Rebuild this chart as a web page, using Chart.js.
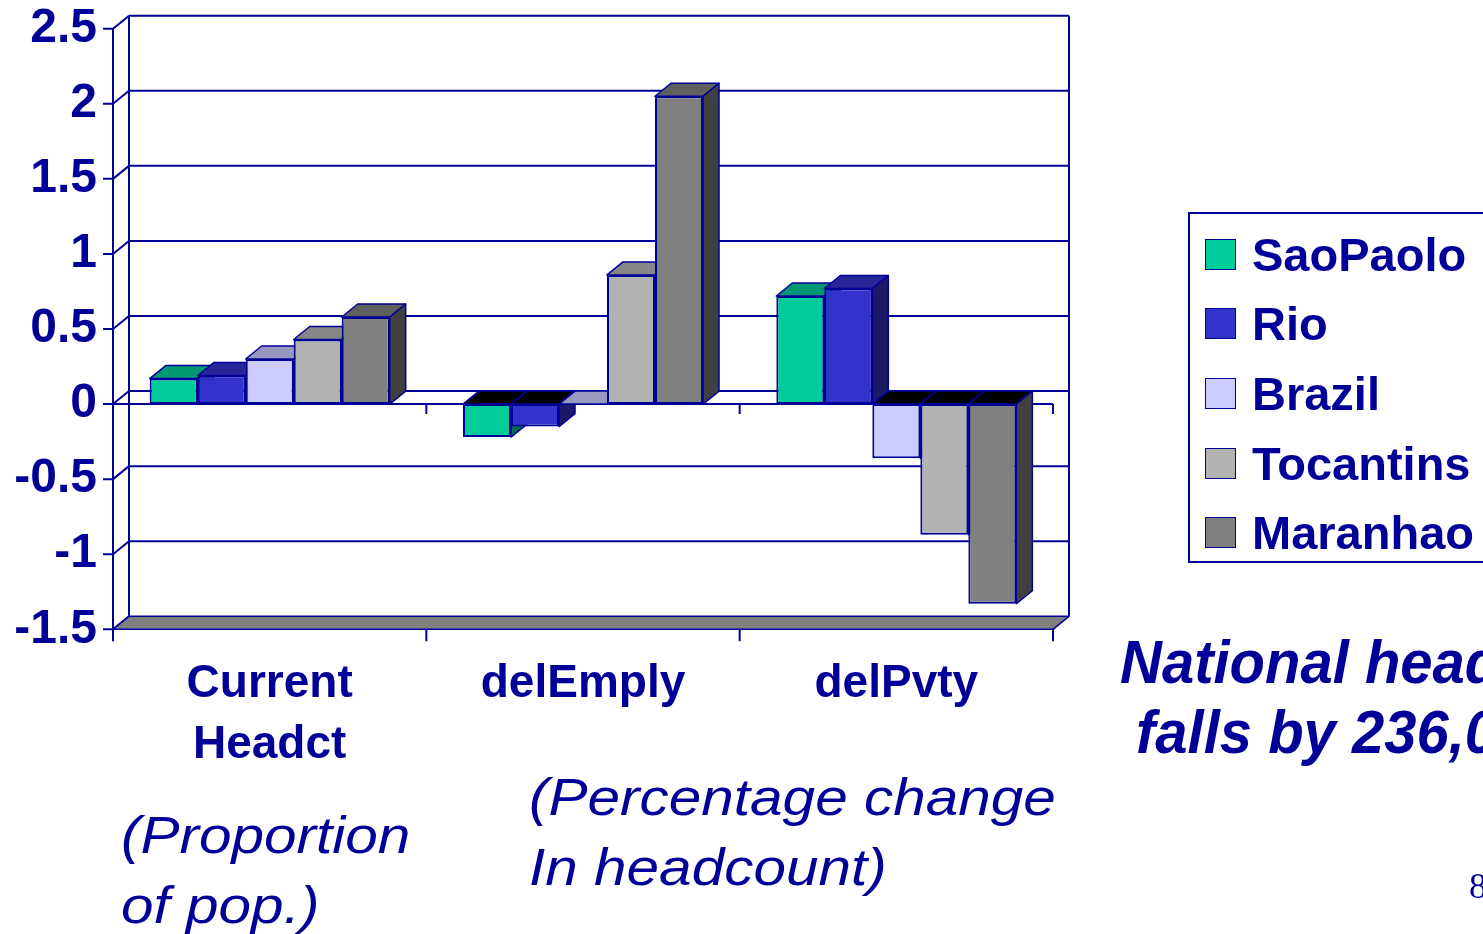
<!DOCTYPE html>
<html lang="en">
<head>
  <meta charset="UTF-8">
  <title>Headcount by region</title>
  <script src="https://cdn.jsdelivr.net/npm/chart.js"></script>
  <style>
    html, body {
      margin: 0;
      padding: 0;
      overflow: hidden;
      background: #fff;
    }
    #wrap {
      position: relative;
      width: 1483px;
      height: 934px;
    }
    .note {
      position: absolute;
      color: #000099;
      white-space: nowrap;
      font-family: "Liberation Sans", Arial, sans-serif;
      line-height: 1;
    }
    .sub {
      font-size: 52px;
      font-style: italic;
      transform: scaleX(1.125);
      transform-origin: left top;
    }
    .big {
      font-size: 58px;
      font-style: italic;
      font-weight: bold;
      transform: scaleY(1.05);
      transform-origin: left top;
    }
    #legend {
      position: absolute;
      left: 1188px;
      top: 212px;
      width: 340px;
      height: 351px;
      border: 2px solid #000099;
      box-sizing: border-box;
    }
    .item {
      position: absolute;
      left: 15px;
      height: 40px;
      display: flex;
      align-items: center;
      font-family: "Liberation Sans", Arial, sans-serif;
      font-weight: bold;
      font-size: 47px;
      color: #000099;
    }
    .item span.box {
      display: inline-block;
      width: 29px;
      height: 29px;
      border: 1px solid #000099;
      margin-right: 16px;
    }
  </style>
</head>
<body>
<div id="wrap">
  <canvas id="chart"></canvas>

  <div id="legend"></div>

  <div class="note sub" style="left:121px; top:809px;">(Proportion</div>
  <div class="note sub" style="left:121px; top:879px;">of pop.)</div>
  <div class="note sub" style="left:529px; top:771px;">(Percentage change</div>
  <div class="note sub" style="left:529px; top:841px;">In headcount)</div>

  <div class="note big" style="left:1120px; top:632px;">National headcount</div>
  <div class="note big" style="left:1136px; top:702px;">falls by 236,000</div>

  <div class="note" style="left:1469px; top:868px; font-family:'Liberation Serif', serif; font-size:36px;">8</div>
</div>

<script>
  const categories = [['Current', 'Headct'], 'delEmply', 'delPvty'];
  const seriesNames = ['SaoPaolo', 'Rio', 'Brazil', 'Tocantins', 'Maranhao'];

  const saoPaolo  = [0.17, -0.22, 0.72];
  const rio       = [0.19, -0.15, 0.77];
  const brazil    = [0.30,  0.00, -0.36];
  const tocantins = [0.43,  0.86, -0.87];
  const maranhao  = [0.58,  2.05, -1.33];

  const yMin = -1.5, yMax = 2.5, yStep = 0.5;

  // front / top / side shades of each series
  const frontColors = ['#00CC99', '#3333CC', '#CCCCFF', '#B2B2B2', '#808080'];
  const topColors   = ['#009973', '#262699', '#9999BF', '#868686', '#606060'];
  const sideColors  = ['#006B50', '#1A1A66', '#66667F', '#595959', '#404040'];

  const navy = '#000099';
  const DX = 16, DY = -13;   // depth offset of the 3d look

  const allValues = [saoPaolo, rio, brazil, tocantins, maranhao];

  // legend
  const legend = document.getElementById('legend');
  seriesNames.forEach((name, i) => {
    const d = document.createElement('div');
    d.className = 'item';
    d.style.top = (20 + i * 69.7) + 'px';
    d.innerHTML = '<span class="box" style="background:' + frontColors[i] + '"></span>' + name;
    legend.appendChild(d);
  });

  function poly(ctx, pts, fill) {
    ctx.beginPath();
    ctx.moveTo(pts[0][0], pts[0][1]);
    for (let k = 1; k < pts.length; k++) ctx.lineTo(pts[k][0], pts[k][1]);
    ctx.closePath();
    ctx.fillStyle = fill;
    ctx.fill();
    ctx.stroke();
  }

  const box3d = {
    id: 'box3d',
    beforeDatasetsDraw(chart) {
      const ctx = chart.ctx;
      const area = chart.chartArea;
      const y = chart.scales.y;
      const L = area.left, R = area.right;
      const bottom = y.getPixelForValue(yMin);
      const zero = y.getPixelForValue(0);
      const catW = (R - L) / categories.length;

      ctx.save();
      ctx.strokeStyle = navy;
      ctx.lineWidth = 2;
      ctx.lineJoin = 'round';

      // back wall gridlines + left wall diagonals + ticks
      for (let v = yMin; v <= yMax + 1e-9; v += yStep) {
        const py = y.getPixelForValue(v);
        ctx.beginPath();
        if (v > yMin) {
          ctx.moveTo(L + DX, py + DY);
          ctx.lineTo(R + DX, py + DY);
        }
        ctx.moveTo(L, py);
        ctx.lineTo(L + DX, py + DY);
        ctx.moveTo(L - 10, py);
        ctx.lineTo(L, py);
        ctx.stroke();
      }
      // wall edges
      ctx.beginPath();
      ctx.moveTo(L + DX, area.top + DY);
      ctx.lineTo(L + DX, bottom + DY);
      ctx.moveTo(R + DX, area.top + DY);
      ctx.lineTo(R + DX, bottom + DY);
      ctx.moveTo(L, area.top);
      ctx.lineTo(L, bottom + 12);
      ctx.stroke();

      // floor
      ctx.lineWidth = 1.5;
      poly(ctx, [[L, bottom], [R, bottom], [R + DX, bottom + DY], [L + DX, bottom + DY]], '#808080');
      ctx.lineWidth = 2;

      // category axis at zero and at the floor
      ctx.beginPath();
      ctx.moveTo(L, zero);
      ctx.lineTo(R, zero);
      for (let c = 1; c <= categories.length; c++) {
        const px = L + c * catW;
        ctx.moveTo(px, zero);
        ctx.lineTo(px, zero + 10);
        ctx.moveTo(px, bottom);
        ctx.lineTo(px, bottom + 12);
      }
      ctx.stroke();

      // top and side faces of every bar
      ctx.lineWidth = 1.5;
      chart.data.datasets.forEach((ds, di) => {
        const meta = chart.getDatasetMeta(di);
        meta.data.forEach((bar, j) => {
          const p = bar.getProps(['x', 'y', 'base', 'width'], true);
          const l = p.x - p.width / 2, r = p.x + p.width / 2;
          const hi = Math.min(p.y, p.base), lo = Math.max(p.y, p.base);
          const neg = ds.data[j] < 0;
          poly(ctx, [[l, hi], [r, hi], [r + DX, hi + DY], [l + DX, hi + DY]],
               neg ? '#000000' : topColors[di]);
          poly(ctx, [[r, hi], [r, lo], [r + DX, lo + DY], [r + DX, hi + DY]], sideColors[di]);
        });
      });
      ctx.restore();
    }
  };

  const font = '"Liberation Sans", Arial, sans-serif';

  new Chart(document.getElementById('chart'), {
    type: 'bar',
    data: {
      labels: categories,
      datasets: seriesNames.map((name, i) => ({
        label: name,
        data: allValues[i],
        backgroundColor: frontColors[i],
        borderColor: navy,
        borderWidth: 2,
        borderSkipped: false,
        categoryPercentage: 0.766,
        barPercentage: 1.0
      }))
    },
    options: {
      responsive: true,
      maintainAspectRatio: false,
      animation: false,
      layout: {
        padding: { left: 0, top: 28.7, right: 430, bottom: 0 }
      },
      scales: {
        x: {
          grid: { display: false, drawTicks: false },
          border: { display: false },
          ticks: {
            color: navy,
            font: { family: font, size: 46, weight: 'bold', lineHeight: 1.33 },
            padding: 24,
            maxRotation: 0,
            autoSkip: false
          },
          afterFit(scale) {
            scale.height = 934 - 629.3;
            scale.paddingLeft = 0;
            scale.paddingRight = 0;
          }
        },
        y: {
          min: yMin,
          max: yMax,
          grid: { display: false, drawTicks: false },
          border: { display: false },
          ticks: {
            stepSize: yStep,
            color: navy,
            font: { family: font, size: 48, weight: 'bold' },
            padding: 16,
            callback: (v) => String(v)
          },
          afterFit(scale) {
            scale.width = 113;
            scale.paddingTop = 0;
            scale.paddingBottom = 0;
          }
        }
      },
      plugins: {
        legend: { display: false },
        tooltip: { enabled: false }
      }
    },
    plugins: [box3d]
  });
</script>
</body>
</html>
